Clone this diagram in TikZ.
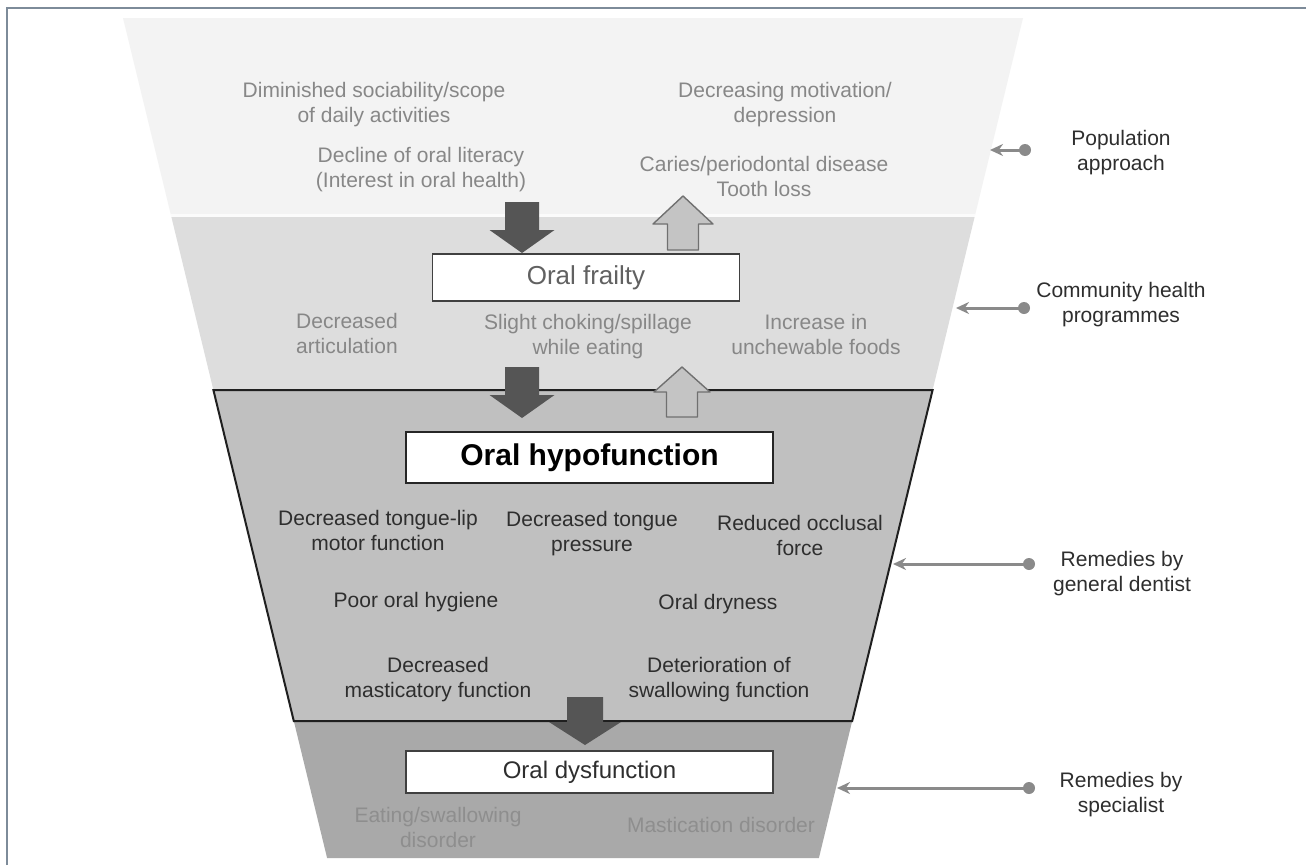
\documentclass[tikz,border=0pt]{standalone}
\usepackage{fontspec}
\setmainfont{Liberation Sans}
\usetikzlibrary{arrows.meta}
\definecolor{bandA}{HTML}{F3F3F3}
\definecolor{bandB}{HTML}{DDDDDD}
\definecolor{bandC}{HTML}{C0C0C0}
\definecolor{bandD}{HTML}{A9A9A9}
\definecolor{txtlight}{HTML}{878787}
\definecolor{txtdark}{HTML}{2E2E2E}
\definecolor{txtdeep}{HTML}{8E8E8E}
\definecolor{sidegray}{HTML}{8A8A8A}
\definecolor{framecol}{HTML}{7D8B99}
\definecolor{darkarrow}{HTML}{555555}
\definecolor{lightarrow}{HTML}{C4C4C4}
\definecolor{arrowline}{HTML}{707070}
\newcommand\blockarrow[7]{%
  \path[#1] (#2-#6,#3) -- (#2+#6,#3) -- (#2+#6,#4) -- (#2+#7,#4) -- (#2,#5)
    -- (#2-#7,#4) -- (#2-#6,#4) -- cycle;}
\tikzset{
  lbl/.style={align=center, inner sep=0pt, font=\fontsize{21}{25}\selectfont},
  graytxt/.style={lbl, text=txtlight},
  darktxt/.style={lbl, text=txtdark},
  deeptxt/.style={lbl, text=txtdeep},
  sidetxt/.style={lbl, text=txtdark},
  dotc/.style={circle, fill=sidegray, inner sep=0pt, minimum size=12pt},
  sidearrow/.style={draw=sidegray, line width=3pt, -{Stealth[length=13pt,width=12pt]}},
  downarr/.style={fill=darkarrow},
  uparr/.style={fill=lightarrow, draw=arrowline, line width=1.4pt, line join=round},
}
\begin{document}
\begin{tikzpicture}[x=1pt, y=-1pt]
\useasboundingbox (0,0) rectangle (1306,865);
\fill[white] (0,0) rectangle (1306,865);
% frame
\draw[framecol, line width=1.2pt] (7,865) -- (7,8) -- (1306,8);
% funnel bands
\fill[bandA] (123,18) -- (1023,18) -- (974.6,217) -- (171.4,217) -- cycle;
\draw[white, line width=3pt, opacity=0.7] (170.6,215) -- (975.4,215);
\fill[bandB] (171.4,217) -- (974.6,217) -- (932.6,390) -- (213.4,390) -- cycle;
\fill[bandD] (293.8,721) -- (852.2,721) -- (818.9,858) -- (327.1,858) -- cycle;
\filldraw[fill=bandC, draw=black!88, line width=2pt, line join=miter]
  (213.4,390) -- (932.6,390) -- (852.2,721) -- (293.8,721) -- cycle;
% block arrows
\blockarrow{downarr}{522}{202}{230}{253}{17}{32.5}
\blockarrow{uparr}{683}{250}{224}{196}{15.5}{30}
\blockarrow{downarr}{522}{367}{395}{418}{17}{32.5}
\blockarrow{uparr}{682}{417}{392}{367}{15.5}{28}
\blockarrow{downarr}{585}{697}{722}{745}{18}{36}
% boxes
\node[draw=black!75, line width=1.5pt, fill=white, minimum width=307pt, minimum height=47pt,
  inner sep=0pt, text=black!62, font=\fontsize{26}{30}\selectfont] (frailty) at (586,277.5) {Oral frailty};
\node[draw=black!85, line width=2.2pt, fill=white, minimum width=367pt, minimum height=51pt,
  inner sep=0pt, text=black, font=\fontsize{30}{34}\bfseries\selectfont] (hypo) at (589.5,457.5) {Oral hypofunction};
\node[draw=black!75, line width=1.5pt, fill=white, minimum width=367pt, minimum height=42pt,
  inner sep=0pt, text=txtdark, font=\fontsize{24}{28}\selectfont] (dys) at (589.5,772) {Oral dysfunction};
% band 1 texts
\node[graytxt] (t1) at (374,105) {Diminished sociability/scope\\of daily activities};
\node[graytxt] (t2) at (421,170) {Decline of oral literacy\\(Interest in oral health)};
\node[graytxt] (t3) at (785,105) {Decreasing motivation/\\depression};
\node[graytxt] (t4) at (764,176) {Caries/periodontal disease\\Tooth loss};
% band 2 texts
\node[graytxt] (t5) at (347,333) {Decreased\\articulation};
\node[graytxt] (t6) at (588,337) {Slight choking/spillage\\while eating};
\node[graytxt] (t7) at (816,334) {Increase in\\unchewable foods};
% band 3 texts
\node[darktxt] (t8) at (378,530) {Decreased tongue-lip\\motor function};
\node[darktxt] (t9) at (592,534) {Decreased tongue\\pressure};
\node[darktxt] (t10) at (800,535) {Reduced occlusal\\force};
\node[darktxt] (t11) at (416,602) {Poor oral hygiene};
\node[darktxt] (t12) at (718,604) {Oral dryness};
\node[darktxt] (t13) at (438,680) {Decreased\\masticatory function};
\node[darktxt] (t14) at (719,680) {Deterioration of\\swallowing function};
% band 4 texts
\node[deeptxt] (t15) at (438,827) {Eating/swallowing\\disorder};
\node[deeptxt] (t16) at (721,825) {Mastication disorder};
% side labels
\node[sidetxt] (s1) at (1121,153) {Population\\approach};
\node[sidetxt] (s2) at (1121,305) {Community health\\programmes};
\node[sidetxt] (s3) at (1122,574) {Remedies by\\general dentist};
\node[sidetxt] (s4) at (1121,795) {Remedies by\\specialist};
\node[dotc] (d1) at (1025,150) {};
\node[dotc] (d2) at (1024,308) {};
\node[dotc] (d3) at (1029,564) {};
\node[dotc] (d4) at (1029,788) {};
\coordinate (e1) at (990,150);
\coordinate (e2) at (956,308);
\coordinate (e3) at (893,564);
\coordinate (e4) at (837,788);
\draw[sidearrow] (d1.center) -- (e1);
\draw[sidearrow] (d2.center) -- (e2);
\draw[sidearrow] (d3.center) -- (e3);
\draw[sidearrow] (d4.center) -- (e4);
\end{tikzpicture}
\end{document}
